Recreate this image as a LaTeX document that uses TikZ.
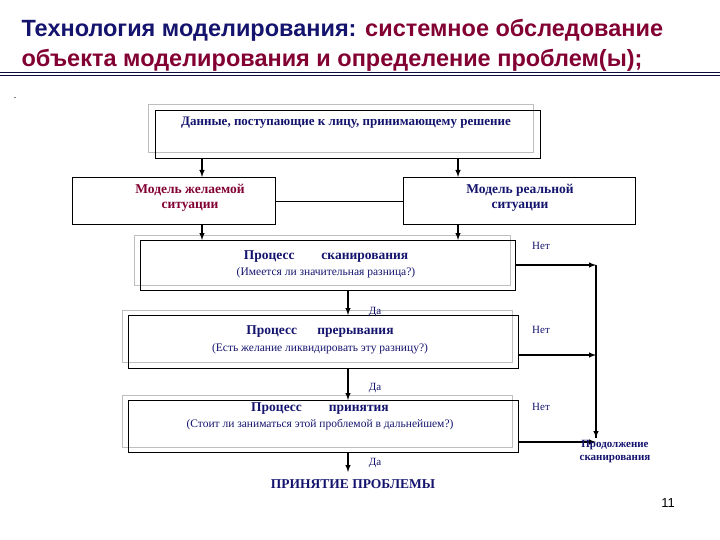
\documentclass[tikz,border=0pt]{standalone}
\usepackage{fontspec}
\setmainfont{Liberation Serif}
\newfontfamily\titlefont{Liberation Sans}
\definecolor{navy}{RGB}{20,20,110}
\definecolor{maroon}{RGB}{130,0,50}
\definecolor{frame}{RGB}{190,190,190}
\begin{document}
\begin{tikzpicture}[x=1pt,y=-1pt,
  gbox/.style={draw=frame,line width=0.7pt},
  arr/.style={line width=1.4pt,-latex},
  ln/.style={line width=1.4pt},
  hd/.style={font=\bfseries\fontsize{13.5}{15}\selectfont,text=navy,align=center},
  sub/.style={font=\fontsize{11.5}{13}\selectfont,text=navy},
  lab/.style={font=\fontsize{11}{13}\selectfont,text=navy}]
\useasboundingbox (0,0) rectangle (720,540);
\node[anchor=west,font=\titlefont\bfseries\fontsize{23.5}{27}\selectfont] (t1) at (18,30) {\textcolor{navy}{Технология моделирования:} \textcolor{maroon}{системное обследование}};
\node[anchor=west,font=\titlefont\bfseries\fontsize{23.5}{27}\selectfont,text=maroon] (t2) at (18,60) {объекта моделирования и определение проблем(ы);};
\draw[navy!60!black,line width=0.8pt] (0,72) -- (720,72);
\draw[navy!60!black,line width=0.8pt] (0,75.5) -- (720,75.5);
\node (dot) at (15,98) {.};
% data box
\draw[gbox] (148,104) rectangle (533,152);
\node[draw,line width=0.9pt,minimum width=385pt,minimum height=48pt,anchor=north west] (data) at (155,110) {};
\node[hd,font=\bfseries\fontsize{13}{15}\selectfont] (datat) at (346,123) {Данные, поступающие к лицу, принимающему решение};
% models
\node[draw,line width=0.9pt,minimum width=203pt,minimum height=47pt,anchor=north west] (des) at (72,177) {};
\node[hd,text=maroon] (dest) at (190,198) {Модель желаемой\\ситуации};
\node[draw,line width=0.9pt,minimum width=232pt,minimum height=47pt,anchor=north west] (real) at (403,177) {};
\node[hd] (realt) at (520,198) {Модель реальной\\ситуации};
\draw[line width=0.8pt] (des.east) -- (real.west);
\coordinate (a1) at (202,158); \coordinate (a2) at (202,177);
\coordinate (a3) at (458,158); \coordinate (a4) at (458,177);
\draw[arr] (a1) -- (a2); \draw[arr] (a3) -- (a4);
% scan
\draw[gbox] (134,235) rectangle (510,285);
\node[draw,line width=0.9pt,minimum width=375pt,minimum height=50pt,anchor=north west] (scan) at (140,240) {};
\coordinate (b1) at (202,224); \coordinate (b2) at (202,240);
\coordinate (b3) at (458,224); \coordinate (b4) at (458,240);
\draw[arr] (b1) -- (b2); \draw[arr] (b3) -- (b4);
\node[hd] (scant) at (326,257) {Процесс\hspace{2em}сканирования};
\node[sub] (scans) at (326,273) {(Имеется ли значительная разница?)};
% interrupt
\draw[gbox] (122,310) rectangle (512,362);
\node[draw,line width=0.9pt,minimum width=390pt,minimum height=53pt,anchor=north west] (intr) at (128,315) {};
\node[hd] (intrt) at (320,332) {Процесс\hspace{1.5em}прерывания};
\node[sub] (intrs) at (320,349) {(Есть желание ликвидировать эту разницу?)};
% accept
\draw[gbox] (122,395) rectangle (512,447);
\node[draw,line width=0.9pt,minimum width=390pt,minimum height=52pt,anchor=north west] (acc) at (128,400) {};
\node[hd] (acct) at (320,409) {Процесс\hspace{2em}принятия};
\node[sub] (accs) at (320,425) {(Стоит ли заниматься этой проблемой в дальнейшем?)};
% vertical flow
\coordinate (c0) at (348,290); \coordinate (c1) at (348,315);
\coordinate (c2) at (348,368); \coordinate (c3) at (348,400);
\coordinate (c4) at (348,452); \coordinate (c5) at (348,472);
\draw[arr] (c0) -- (c1); \draw[arr] (c2) -- (c3); \draw[arr] (c4) -- (c5);
\node[lab] (da1) at (375,312) {Да};
\node[lab] (da2) at (375,388) {Да};
\node[lab] (da3) at (375,463) {Да};
\node[hd,font=\bfseries\fontsize{13.5}{15}\selectfont] (fin) at (353,484) {ПРИНЯТИЕ ПРОБЛЕМЫ};
% right side
\coordinate (r0) at (515,265); \coordinate (r1) at (596,265);
\coordinate (r2) at (518,355); \coordinate (r3) at (596,355);
\coordinate (r4) at (518,442); \coordinate (r5) at (596,442);
\coordinate (rb) at (596,438);
\draw[arr] (r0) -- (r1);
\draw[ln] (r1) -- (rb); \draw[arr] (r1) -- (rb);
\draw[arr] (r2) -- (r3); \draw[arr] (r4) -- (r5);
\node[lab] (n1) at (541,246) {Нет};
\node[lab] (n2) at (541,330) {Нет};
\node[lab] (n3) at (541,407) {Нет};
\node[hd,font=\bfseries\fontsize{11}{13}\selectfont] (cont) at (615,452) {Продолжение\\сканирования};
\node[font=\titlefont\fontsize{13}{15}\selectfont] (pg) at (668,503) {11};
\end{tikzpicture}
\end{document}
